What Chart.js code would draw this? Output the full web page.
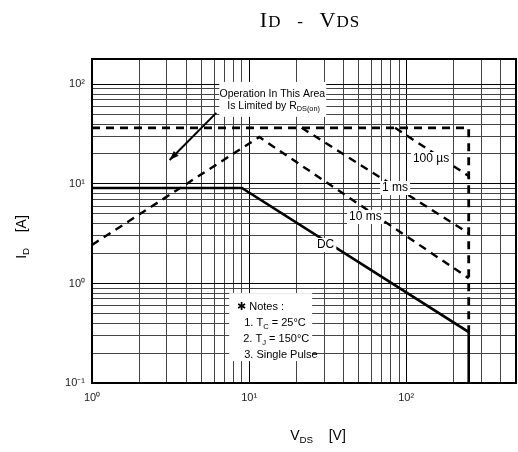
<!DOCTYPE html>
<html>
<head>
<meta charset="utf-8">
<script src="https://cdn.jsdelivr.net/npm/chart.js@4.4.0/dist/chart.umd.min.js"></script>
<style>
html, body { margin: 0; padding: 0; background: #fff; }
#wrap { width: 518px; height: 452px; position: relative; }
</style>
</head>
<body>
<div id="wrap"><canvas id="soaChart"></canvas></div>
<script>
// --- Data ---
const yDecades = [0.1, 1, 10, 100];
const xDecades = [1, 10, 100];
const mantissas = [1, 2, 3, 4, 5, 6, 7, 8, 9];
const xMin = 1, xMax = 500;
const yMin = 0.1, yMax = 180;

const dcV = [1, 9, 250, 250];
const dcI = [9.1, 9.1, 0.325, 0.1];
const ms10V = [1, 11.6, 250];
const ms10I = [2.44, 29.6, 1.13];
const ms1V = [21.6, 250];
const ms1I = [36.6, 3.2];
const us100V = [85, 250];
const us100I = [36.6, 12];
const limitV = [1, 250, 250];
const limitI = [36.6, 36.6, 0.325];

const curveLabels = [
    { text: '100 \u00b5s', v: 144, i: 17.8 },
    { text: '1 ms', v: 85, i: 9.1 },
    { text: '10 ms', v: 55, i: 4.65 },
    { text: 'DC', v: 30.7, i: 2.44 }
];

const FONT = '"Liberation Sans Narrow", "Liberation Sans", Arial, sans-serif';

const xTickVals = xDecades.flatMap(d => mantissas.map(m => m * d)).filter(v => v <= xMax);
const yTickVals = yDecades.flatMap(d => mantissas.map(m => +(m * d).toPrecision(3))).filter(v => v <= yMax);

const isPow10 = v => Math.abs(Math.log10(v) - Math.round(Math.log10(v))) < 1e-9;
const supMap = { '-': '\u207b', '0': '\u2070', '1': '\u00b9', '2': '\u00b2', '3': '\u00b3' };
const powLabel = v => isPow10(v) ? '10' + String(Math.round(Math.log10(v))).split('').map(c => supMap[c]).join('') : '';

const pts = (xs, ys) => xs.map((x, k) => ({ x: x, y: ys[k] }));

function lineSet(xs, ys, dashed, width) {
    return {
        data: pts(xs, ys),
        showLine: true,
        borderColor: '#000',
        borderWidth: width,
        borderDash: dashed ? [8, 6] : [],
        pointRadius: 0,
        tension: 0,
        fill: false
    };
}

// draw text made of normal / subscript parts
function richText(ctx, parts, x, y, size, align) {
    let total = 0;
    parts.forEach(p => {
        ctx.font = (p.sub ? size * 0.7 : size) + 'px ' + FONT;
        total += ctx.measureText(p.t).width;
    });
    let cx = align === 'center' ? x - total / 2 : x;
    ctx.textAlign = 'left';
    ctx.textBaseline = 'middle';
    parts.forEach(p => {
        ctx.font = (p.sub ? size * 0.7 : size) + 'px ' + FONT;
        ctx.fillText(p.t, cx, p.sub ? y + size * 0.3 : y);
        cx += ctx.measureText(p.t).width;
    });
}

const decorPlugin = {
    id: 'decor',
    afterDraw(chart) {
        const ctx = chart.ctx;
        const xs = chart.scales.x, ys = chart.scales.y;
        const a = chart.chartArea;
        ctx.save();
        ctx.fillStyle = '#000';

        // title
        ctx.textBaseline = 'alphabetic';
        ctx.textAlign = 'left';
        const tParts = [['I', 22], ['D', 17], ['   -   ', 17], ['V', 22], ['DS', 17]];
        const tFont = '"Liberation Serif", serif';
        ctx.letterSpacing = '1px';
        let tw = 0;
        tParts.forEach(p => { ctx.font = p[1] + 'px ' + tFont; tw += ctx.measureText(p[0]).width; });
        let tx = 310 - tw / 2;
        tParts.forEach(p => { ctx.font = p[1] + 'px ' + tFont; ctx.fillText(p[0], tx, 27); tx += ctx.measureText(p[0]).width; });
        ctx.letterSpacing = '0px';

        // axis titles
        richText(ctx, [{ t: 'V' }, { t: 'DS', sub: true }, { t: '    [V]' }], 318, 436, 14, 'center');
        ctx.save();
        ctx.translate(22, 237);
        ctx.rotate(-Math.PI / 2);
        richText(ctx, [{ t: 'I' }, { t: 'D', sub: true }, { t: '    [A]' }], 0, 0, 14, 'center');
        ctx.restore();

        // curve labels with white backing
        curveLabels.forEach(l => {
            const px = xs.getPixelForValue(l.v), py = ys.getPixelForValue(l.i);
            ctx.font = '12px ' + FONT;
            const w = ctx.measureText(l.text).width;
            ctx.fillStyle = '#fff';
            ctx.fillRect(px - w / 2 - 2, py - 7, w + 4, 14);
            ctx.fillStyle = '#000';
            ctx.textAlign = 'center';
            ctx.textBaseline = 'middle';
            ctx.fillText(l.text, px, py);
        });

        // R_DS(on) note box
        const bx = xs.getPixelForValue(6.46), by = ys.getPixelForValue(106);
        ctx.fillStyle = '#fff';
        ctx.fillRect(bx, by, 107, 35);
        ctx.fillStyle = '#000';
        richText(ctx, [{ t: 'Operation In This Area' }], bx + 53, by + 12, 10.5, 'center');
        richText(ctx, [{ t: 'Is Limited by R' }, { t: 'DS(on)', sub: true }], bx + 8, by + 24, 10.5, 'left');

        // arrow towards the R_DS(on) line
        const ax0 = xs.getPixelForValue(6.18), ay0 = ys.getPixelForValue(51.8);
        const ax1 = xs.getPixelForValue(3.12), ay1 = ys.getPixelForValue(17.4);
        ctx.strokeStyle = '#000';
        ctx.lineWidth = 2;
        ctx.beginPath();
        ctx.moveTo(ax0, ay0);
        ctx.lineTo(ax1, ay1);
        ctx.stroke();
        const ang = Math.atan2(ay1 - ay0, ax1 - ax0);
        ctx.beginPath();
        ctx.moveTo(ax1, ay1);
        ctx.lineTo(ax1 - 10 * Math.cos(ang - 0.35), ay1 - 10 * Math.sin(ang - 0.35));
        ctx.lineTo(ax1 - 10 * Math.cos(ang + 0.35), ay1 - 10 * Math.sin(ang + 0.35));
        ctx.closePath();
        ctx.fill();

        // test conditions box
        const nx = xs.getPixelForValue(7.47), ny = ys.getPixelForValue(0.8);
        ctx.fillStyle = '#fff';
        ctx.fillRect(nx, ny, 83, 68);
        ctx.fillStyle = '#000';
        richText(ctx, [{ t: '\u2731 Notes :' }], nx + 8, ny + 14, 11, 'left');
        richText(ctx, [{ t: '1. T' }, { t: 'C', sub: true }, { t: ' = 25\u00b0C' }], nx + 15, ny + 30, 11, 'left');
        richText(ctx, [{ t: '2. T' }, { t: 'J', sub: true }, { t: ' = 150\u00b0C' }], nx + 14, ny + 46, 11, 'left');
        richText(ctx, [{ t: '3. Single Pulse' }], nx + 15, ny + 62, 11, 'left');

        // plot frame
        ctx.strokeStyle = '#000';
        ctx.lineWidth = 2;
        ctx.strokeRect(a.left, a.top, a.right - a.left, a.bottom - a.top);
        ctx.restore();
    }
};

const gridColor = c => (c.tick && isPow10(c.tick.value)) ? '#000' : '#444';

new Chart(document.getElementById('soaChart'), {
    type: 'scatter',
    data: {
        datasets: [
            lineSet(dcV, dcI, false, 2.6),
            lineSet(ms10V, ms10I, true, 2.4),
            lineSet(ms1V, ms1I, true, 2.4),
            lineSet(us100V, us100I, true, 2.4),
            lineSet(limitV, limitI, true, 2.8)
        ]
    },
    options: {
        responsive: true,
        maintainAspectRatio: false,
        animation: false,
        layout: { padding: { top: 59, right: 2, left: 0, bottom: 0 } },
        plugins: { legend: { display: false }, tooltip: { enabled: false } },
        scales: {
            x: {
                type: 'logarithmic',
                min: xMin,
                max: xMax,
                afterBuildTicks: s => { s.ticks = xTickVals.map(v => ({ value: v })); },
                afterFit: s => { s.height = 69; s.paddingLeft = 0; s.paddingRight = 0; },
                ticks: {
                    autoSkip: false,
                    maxRotation: 0,
                    padding: 8,
                    color: '#222',
                    font: { family: FONT, size: 11 },
                    callback: v => powLabel(v)
                },
                grid: { color: gridColor, lineWidth: 1, drawTicks: false },
                border: { display: false }
            },
            y: {
                type: 'logarithmic',
                min: yMin,
                max: yMax,
                afterBuildTicks: s => { s.ticks = yTickVals.map(v => ({ value: v })); },
                afterFit: s => { s.width = 92; s.paddingTop = 0; s.paddingBottom = 0; },
                ticks: {
                    autoSkip: false,
                    padding: 7,
                    color: '#222',
                    font: { family: FONT, size: 11 },
                    callback: v => powLabel(v)
                },
                grid: { color: gridColor, lineWidth: 1, drawTicks: false },
                border: { display: false }
            }
        }
    },
    plugins: [decorPlugin]
});
</script>
</body>
</html>
